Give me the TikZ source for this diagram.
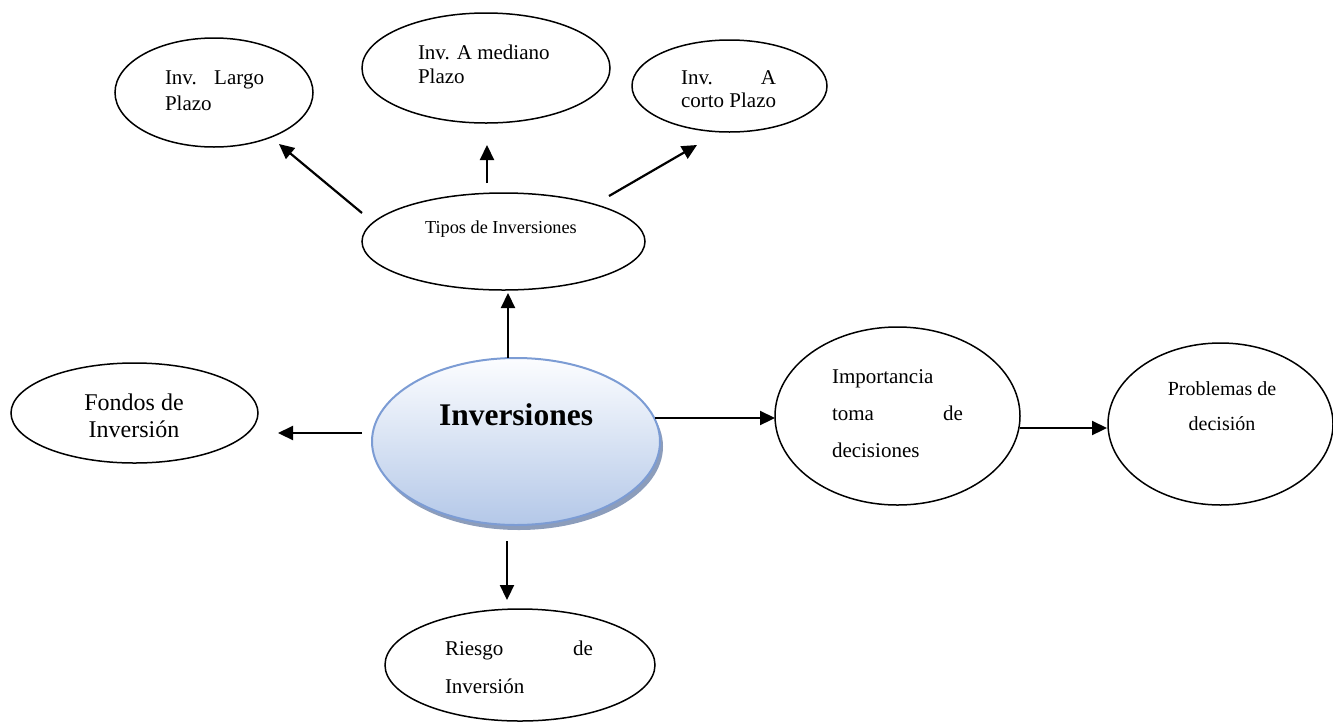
\documentclass[tikz,border=0pt]{standalone}
\usepackage{fontspec}
\setmainfont{Liberation Serif}
\usetikzlibrary{shapes.geometric,arrows.meta,shadows}
\definecolor{invtop}{RGB}{252,253,255}
\definecolor{invbot}{RGB}{180,200,232}
\definecolor{invborder}{RGB}{124,156,212}
\definecolor{invshadow}{RGB}{128,146,180}
\tikzset{
  oval/.style={draw=black, ellipse, line width=1.5pt, inner sep=0pt},
  txt/.style={anchor=base west, inner sep=0pt, outer sep=0pt, text=black},
  ctxt/.style={anchor=base, inner sep=0pt, outer sep=0pt, text=black},
  arr/.style={draw=black, line width=2.2pt, -{Triangle[length=15pt,width=14pt]}},
  fa/.style={font=\fontsize{21pt}{21pt}\selectfont}
}
\begin{document}
\begin{tikzpicture}[x=1pt,y=-1pt]
\useasboundingbox (0,0) rectangle (1333,721);
% ellipses
\node[oval, minimum width=198pt, minimum height=109pt] (largo) at (214,92.5) {};
\node[oval, minimum width=248pt, minimum height=110pt] (mediano) at (486,68) {};
\node[oval, minimum width=195pt, minimum height=92pt] (corto) at (729.5,86) {};
\node[oval, minimum width=283pt, minimum height=97pt] (tipos) at (503.5,241.5) {};
\node[oval, minimum width=247pt, minimum height=100pt] (fondos) at (134.5,413) {};
\node[oval, minimum width=245pt, minimum height=178pt] (imp) at (897.5,416) {};
\node[oval, minimum width=225pt, minimum height=162pt] (prob) at (1220.5,424) {};
\node[oval, minimum width=270pt, minimum height=112pt] (riesgo) at (520,665) {};
\node[ellipse, draw=invborder, line width=2pt, top color=invtop, bottom color=invbot,
      drop shadow={shadow xshift=3pt, shadow yshift=-5pt, fill=invshadow, opacity=0.9},
      minimum width=288pt, minimum height=167pt, inner sep=0pt] (inv) at (516,441.5) {};
% texts
\node[txt, fa] (t-largo1) at (165,84) {\hbox to 99pt{Inv.\hfill Largo}};
\node[txt, fa] (t-largo2) at (165,110) {Plazo};
\node[txt, fa] (t-med1) at (418,59) {Inv. A mediano};
\node[txt, fa] (t-med2) at (418,83) {Plazo};
\node[txt, fa] (t-corto1) at (681,84) {\hbox to 95pt{Inv.\hfill A}};
\node[txt, fa] (t-corto2) at (681,107) {corto Plazo};
\node[txt, font=\fontsize{18.3pt}{18.3pt}\selectfont] (t-tipos) at (425,233) {Tipos de Inversiones};
\node[ctxt, font=\fontsize{24pt}{24pt}\selectfont] (t-fondos1) at (134,410) {Fondos de};
\node[ctxt, font=\fontsize{24pt}{24pt}\selectfont] (t-fondos2) at (134,437) {Inversión};
\node[ctxt, font=\fontsize{31.5pt}{31.5pt}\selectfont\bfseries] (t-inv) at (516,425) {Inversiones};
\node[txt, fa] (t-imp1) at (832,383) {Importancia};
\node[txt, fa] (t-imp2) at (832,420) {\hbox to 131pt{toma\hfill de}};
\node[txt, fa] (t-imp3) at (832,457) {decisiones};
\node[ctxt, font=\fontsize{20pt}{20pt}\selectfont] (t-prob1) at (1222,395) {Problemas de};
\node[ctxt, font=\fontsize{20pt}{20pt}\selectfont] (t-prob2) at (1222,430) {decisión};
\node[txt, fa] (t-ries1) at (445,655) {\hbox to 148pt{Riesgo\hfill de}};
\node[txt, fa] (t-ries2) at (445,693) {Inversión};
% connector end points
\coordinate (c-l0) at (362,213); \coordinate (c-l1) at (279,144);
\coordinate (c-m0) at (487,183); \coordinate (c-m1) at (487,145);
\coordinate (c-c0) at (609,196); \coordinate (c-c1) at (697,145);
\coordinate (c-u0) at (508,358); \coordinate (c-u1) at (508,293);
\coordinate (c-f0) at (362,433); \coordinate (c-f1) at (278,433);
\coordinate (c-i0) at (655,418); \coordinate (c-i1) at (775,418);
\coordinate (c-p0) at (1020,428); \coordinate (c-p1) at (1107,428);
\coordinate (c-r0) at (507,541); \coordinate (c-r1) at (507,600);
% connectors
\draw[arr] (c-l0) -- (c-l1);
\draw[arr] (c-m0) -- (c-m1);
\draw[arr] (c-c0) -- (c-c1);
\draw[arr] (c-u0) -- (c-u1);
\draw[arr] (c-f0) -- (c-f1);
\draw[arr] (c-i0) -- (c-i1);
\draw[arr] (c-p0) -- (c-p1);
\draw[arr] (c-r0) -- (c-r1);
\end{tikzpicture}
\end{document}
